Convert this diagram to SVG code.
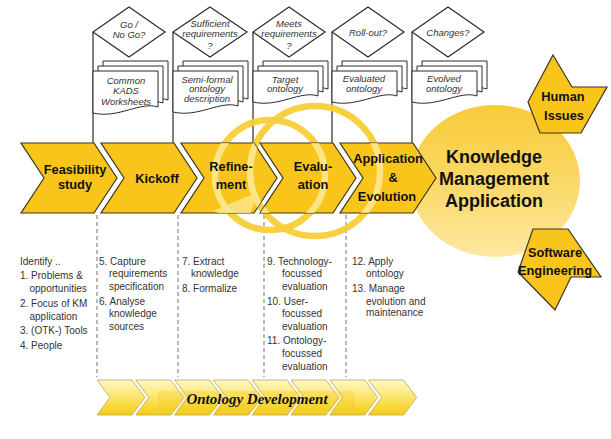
<svg xmlns="http://www.w3.org/2000/svg" width="611" height="439" viewBox="0 0 611 439">
<defs>
<style>
.ln{stroke:#2b2b2b;stroke-width:1.2;fill:none}
.dash{stroke:#8a8a8a;stroke-width:1.2;stroke-dasharray:4 3;fill:none}
.sheet{fill:#fff;stroke:#2b2b2b;stroke-width:1}
.dia{fill:#fff;stroke:#2b2b2b;stroke-width:1.2}
.it{font-family:"Liberation Sans",Arial,sans-serif;font-style:italic;font-size:9.5px;fill:#333;text-anchor:middle}
.chev{fill:#F9C51A;stroke:#3a3520;stroke-width:1.2}
.lbl{font-family:"Liberation Sans",Arial,sans-serif;font-weight:bold;font-size:12.8px;fill:#111;text-anchor:middle}
.big{font-family:"Liberation Sans",Arial,sans-serif;font-weight:bold;font-size:18px;fill:#111;text-anchor:middle}
.body{font-family:"Liberation Sans",Arial,sans-serif;font-size:10px;fill:#333}
.oc{fill:url(#og);stroke:#b8a460;stroke-width:0.8}
.ringb{fill:none;stroke:#F7CF38;stroke-width:6.5;opacity:0.95}
.ringh{fill:none;stroke:#FFF2B4;stroke-width:6.5;opacity:0.7}
</style>
<linearGradient id="eg" x1="0" y1="0" x2="0" y2="1">
<stop offset="0" stop-color="#F8CB36"/>
<stop offset="0.5" stop-color="#FAD866"/>
<stop offset="1" stop-color="#FDE8A2"/>
</linearGradient>
<linearGradient id="og" x1="0" y1="0" x2="0" y2="1">
<stop offset="0" stop-color="#FFF8C4"/>
<stop offset="0.5" stop-color="#FCE56A"/>
<stop offset="1" stop-color="#F5CB14"/>
</linearGradient>
<circle id="ringA" cx="270" cy="175" r="55"/>
<circle id="ringB" cx="315" cy="171" r="65"/>
<clipPath id="c3"><path d="M181,143H254L277,178L254,213H181L204,178Z"/></clipPath>
<clipPath id="c4"><path d="M260,143H333L356,178L333,213H260L283,178Z"/></clipPath>
<clipPath id="c5"><path d="M340,143H413L436,178L413,213H340L363,178Z"/></clipPath>
</defs>
<rect width="611" height="439" fill="#fff"/>

<g id="km-application">
<ellipse cx="495" cy="181" rx="85" ry="76" fill="url(#eg)"/>
<text class="big" x="494" y="163">Knowledge</text>
<text class="big" x="494" y="185">Management</text>
<text class="big" x="494" y="207">Application</text>
</g>

<g id="connectors">
<path class="ln" d="M93,32V143M173,32V143M253,32V143M332,32V143M412,32V143"/>
<path class="dash" d="M97,215V377M178,215V377M264,215V377M346,215V377"/>
</g>

<g id="decision-go">
<polygon class="dia" points="93,32 129,7 165,32 129,57"/>
<text class="it" x="129" y="27.5">Go /</text>
<text class="it" x="129" y="37.5">No Go?</text>
</g>
<g id="decision-sufficient">
<polygon class="dia" points="173,32 210,7 247,32 210,57"/>
<text class="it" x="210" y="27">Sufficient</text>
<text class="it" x="210" y="37">requirements</text>
<text class="it" x="210" y="48.5">?</text>
</g>
<g id="decision-meets">
<polygon class="dia" points="253,32 289,7 325,32 289,57"/>
<text class="it" x="289" y="27">Meets</text>
<text class="it" x="289" y="37">requirements</text>
<text class="it" x="289" y="48.5">?</text>
</g>
<g id="decision-rollout">
<polygon class="dia" points="332,32 368,7 404,32 368,57"/>
<text class="it" x="368" y="36">Roll-out?</text>
</g>
<g id="decision-changes">
<polygon class="dia" points="412,32 448,7 484,32 448,57"/>
<text class="it" x="448" y="36">Changes?</text>
</g>

<g id="doc-kads">
<path class="sheet" d="M103,61H168V100C151,94 128,112 103,106Z"/>
<path class="sheet" d="M98,66H163V103C146,97 123,115 98,109Z"/>
<path class="sheet" d="M93,71H158V107C141,101 118,119 93,113Z"/>
<text class="it" x="126" y="83.5">Common</text>
<text class="it" x="126" y="93.5">KADS</text>
<text class="it" x="126" y="104.5">Worksheets</text>
</g>
<g id="doc-semiformal">
<path class="sheet" d="M183,61H248V99C231,93 208,111 183,105Z"/>
<path class="sheet" d="M178,66H243V102C226,96 203,114 178,108Z"/>
<path class="sheet" d="M173,71H238V106C221,100 198,118 173,112Z"/>
<text class="it" x="207" y="82.5">Semi-formal</text>
<text class="it" x="207" y="92">ontology</text>
<text class="it" x="207" y="102">description</text>
</g>
<g id="doc-target">
<path class="sheet" d="M263,61H328V89C311,83 288,101 263,95Z"/>
<path class="sheet" d="M258,66H323V92C306,86 283,104 258,98Z"/>
<path class="sheet" d="M253,71H318V96C301,90 278,108 253,102Z"/>
<text class="it" x="285" y="82.5">Target</text>
<text class="it" x="285" y="92">ontology</text>
</g>
<g id="doc-evaluated">
<path class="sheet" d="M342,61H407V89C390,83 367,101 342,95Z"/>
<path class="sheet" d="M337,66H402V92C385,86 362,104 337,98Z"/>
<path class="sheet" d="M332,71H397V96C380,90 357,108 332,102Z"/>
<text class="it" x="364" y="82">Evaluated</text>
<text class="it" x="364" y="92">ontology</text>
</g>
<g id="doc-evolved">
<path class="sheet" d="M422,61H487V89C470,83 447,101 422,95Z"/>
<path class="sheet" d="M417,66H482V92C465,86 442,104 417,98Z"/>
<path class="sheet" d="M412,71H477V96C460,90 437,108 412,102Z"/>
<text class="it" x="444" y="82">Evolved</text>
<text class="it" x="444" y="92">ontology</text>
</g>

<g id="rings">
<use href="#ringA" class="ringb"/>
<use href="#ringB" class="ringb"/>
</g>

<g id="phase-feasibility">
<path class="chev" d="M21,143H94L117,178L94,213H21L44,178Z"/>
<text class="lbl" x="75" y="174">Feasibility</text>
<text class="lbl" x="75" y="189">study</text>
</g>
<g id="phase-kickoff">
<path class="chev" d="M101,143H174L197,178L174,213H101L124,178Z"/>
<text class="lbl" x="157" y="182.5">Kickoff</text>
</g>
<g id="phase-refinement">
<path class="chev" d="M181,143H254L277,178L254,213H181L204,178Z"/>
<g clip-path="url(#c3)">
<use href="#ringA" class="ringh"/>
<use href="#ringB" class="ringh"/>
<polygon points="213,211 258,192 247,223" fill="#FCE48A" opacity="0.85"/>
</g>
<text class="lbl" x="231" y="171">Refine-</text>
<text class="lbl" x="231" y="189">ment</text>
</g>
<g id="phase-evaluation">
<path class="chev" d="M260,143H333L356,178L333,213H260L283,178Z"/>
<g clip-path="url(#c4)">
<use href="#ringA" class="ringh"/>
<use href="#ringB" class="ringh"/>
</g>
<text class="lbl" x="313" y="171">Evalu-</text>
<text class="lbl" x="313" y="189">ation</text>
</g>
<g id="phase-application">
<path class="chev" d="M340,143H413L436,178L413,213H340L363,178Z"/>
<g clip-path="url(#c5)">
<use href="#ringB" class="ringh"/>
</g>
<text class="lbl" x="388" y="162.5">Application</text>
<text class="lbl" x="393" y="181.5">&amp;</text>
<text class="lbl" x="387" y="200.5">Evolution</text>
</g>

<g id="human-issues">
<polygon class="chev" points="553,55 572,87 607,87 581,133 540,133 528,102"/>
<text class="lbl" x="563" y="101">Human</text>
<text class="lbl" x="564" y="120">Issues</text>
</g>
<g id="software-engineering">
<polygon class="chev" points="533,229 568,229 601,277 571,277 555,310 518,272"/>
<text class="lbl" x="555" y="257">Software</text>
<text class="lbl" x="555" y="275">Engineering</text>
</g>

<g id="tasks-feasibility" class="body">
<text x="20" y="265">Identify ..</text>
<text x="20" y="279">1. Problems &amp;</text>
<text x="29.5" y="292.3">opportunities</text>
<text x="20" y="307">2. Focus of KM</text>
<text x="29.5" y="319.7">application</text>
<text x="20" y="334">3. (OTK-) Tools</text>
<text x="20" y="349">4. People</text>
</g>
<g id="tasks-kickoff" class="body">
<text x="99" y="264.7">5. Capture</text>
<text x="109" y="277">requirements</text>
<text x="109" y="289.7">specification</text>
<text x="99" y="304.7">6. Analyse</text>
<text x="109" y="317">knowledge</text>
<text x="109" y="329.7">sources</text>
</g>
<g id="tasks-refinement" class="body">
<text x="182" y="264.7">7. Extract</text>
<text x="191" y="277">knowledge</text>
<text x="182" y="292.3">8. Formalize</text>
</g>
<g id="tasks-evaluation" class="body">
<text x="267" y="264.7">9. Technology-</text>
<text x="282" y="277">focussed</text>
<text x="282" y="289.7">evaluation</text>
<text x="267" y="304.7">10. User-</text>
<text x="282" y="317">focussed</text>
<text x="282" y="329.7">evaluation</text>
<text x="267" y="343.7">11. Ontology-</text>
<text x="282" y="357">focussed</text>
<text x="282" y="369.7">evaluation</text>
</g>
<g id="tasks-application" class="body">
<text x="352" y="264.7">12. Apply</text>
<text x="366" y="277">ontology</text>
<text x="352" y="292.3">13. Manage</text>
<text x="366" y="304.7">evolution and</text>
<text x="366" y="316.3">maintenance</text>
</g>

<g id="ontology-development">
<path class="oc" d="M97,380H132L145,397.5L132,415H97L110,397.5Z"/>
<path class="oc" d="M135.8,380H170.8L183.8,397.5L170.8,415H135.8L148.8,397.5Z"/>
<path class="oc" d="M174.6,380H209.6L222.6,397.5L209.6,415H174.6L187.6,397.5Z"/>
<path class="oc" d="M213.4,380H248.4L261.4,397.5L248.4,415H213.4L226.4,397.5Z"/>
<path class="oc" d="M252.2,380H287.2L300.2,397.5L287.2,415H252.2L265.2,397.5Z"/>
<path class="oc" d="M291,380H326L339,397.5L326,415H291L304,397.5Z"/>
<path class="oc" d="M329.8,380H364.8L377.8,397.5L364.8,415H329.8L342.8,397.5Z"/>
<path class="oc" d="M368.6,380H403.6L416.6,397.5L403.6,415H368.6L381.6,397.5Z"/>
<rect x="158" y="391" width="197" height="20" fill="#F6C81E" opacity="0.3"/>
<text x="257" y="404" font-family="'Liberation Serif','Times New Roman',serif" font-weight="bold" font-style="italic" font-size="15" fill="#111" text-anchor="middle">Ontology Development</text>
</g>
</svg>
